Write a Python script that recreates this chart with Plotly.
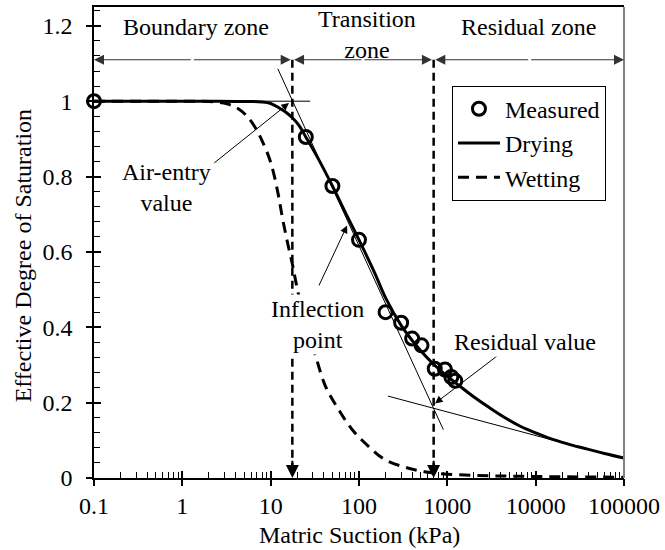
import math
import plotly.graph_objects as go

# Measured soil-water characteristic data (matric suction in kPa, effective degree of saturation)
suction_measured = [0.1, 25, 50, 100, 200, 300, 400, 510, 720, 940, 1110, 1230]
se_measured = [1.0, 0.905, 0.775, 0.632, 0.44, 0.412, 0.37, 0.352, 0.29, 0.288, 0.268, 0.258]

# Drying branch
suction_drying = [0.1, 0.5, 1, 2, 4, 6, 8, 10, 12.5, 15, 17.6, 21, 25, 35, 50, 70, 100, 150, 200,
                  300, 400, 500, 700, 1000, 1330, 2000, 2900, 4500, 6870, 10000, 16330, 25000,
                  38800, 60000, 100000]
se_drying = [1.0, 1.0, 1.0, 1.0, 0.999, 0.999, 0.998, 0.994, 0.982, 0.97, 0.956, 0.935, 0.905,
             0.845, 0.775, 0.705, 0.632, 0.545, 0.478, 0.405, 0.365, 0.338, 0.302, 0.27, 0.247,
             0.215, 0.189, 0.16, 0.136, 0.12, 0.101, 0.088, 0.0766, 0.065, 0.053]

# Wetting branch
suction_wetting = [0.1, 1, 2, 3.2, 4.3, 5.3, 6.5, 8, 10, 12, 13.6, 15.5, 17.6, 19.5, 24, 32, 42,
                   59, 84, 129, 199, 364, 611, 1000, 3000, 10000, 100000]
se_wetting = [1.0, 1.0, 0.999, 0.993, 0.98, 0.962, 0.935, 0.895, 0.838, 0.76, 0.69, 0.625, 0.568,
              0.515, 0.42, 0.326, 0.242, 0.181, 0.128, 0.0835, 0.048, 0.026, 0.015, 0.01, 0.006,
              0.004, 0.002]

# Graphical construction lines
saturation_line_x = [0.1, 28]
saturation_line_y = [1.0, 1.0]
inflection_tangent_x = [12.05, 902]
inflection_tangent_y = [1.086, 0.128]
residual_tangent_x = [212, 40000]
residual_tangent_y = [0.2175, 0.075]

air_entry_suction = 17.6
residual_suction = 700
zone_level = 1.11
suction_min, suction_max = 0.1, 100000

x_tickvals = [0.1, 1, 10, 100, 1000, 10000, 100000]
x_ticktext = ["0.1", "1", "10", "100", "1000", "10000", "100000"]
x_minor_vals = [m * 10 ** e for e in range(-1, 5) for m in range(2, 10)]

FONT = "Liberation Serif"
L = math.log10

fig = go.Figure()

# construction lines (thin)
for xs, ys in [(saturation_line_x, saturation_line_y),
               (inflection_tangent_x, inflection_tangent_y),
               (residual_tangent_x, residual_tangent_y)]:
    fig.add_trace(go.Scatter(x=xs, y=ys, mode="lines", line=dict(color="black", width=1),
                             showlegend=False, hoverinfo="skip"))

# vertical zone boundaries
for xv in (air_entry_suction, residual_suction):
    fig.add_trace(go.Scatter(x=[xv, xv], y=[zone_level, 0.02], mode="lines",
                             line=dict(color="black", width=2.5, dash="8px,5px"),
                             showlegend=False, hoverinfo="skip"))

fig.add_trace(go.Scatter(x=suction_wetting, y=se_wetting, mode="lines", name="Wetting",
                         line=dict(color="black", width=3, dash="11px,7px", shape="spline"),
                         legendrank=3))
fig.add_trace(go.Scatter(x=suction_drying, y=se_drying, mode="lines", name="Drying",
                         line=dict(color="black", width=3, shape="spline"),
                         legendrank=2))
fig.add_trace(go.Scatter(x=suction_measured, y=se_measured, mode="markers", name="Measured",
                         marker=dict(symbol="circle-open", size=13, color="black",
                                     line=dict(width=3, color="black")),
                         cliponaxis=False, legendrank=1))

# placeholder traces so the outer-tick axes are drawn
fig.add_trace(go.Scatter(x=[None], y=[None], xaxis="x2", yaxis="y", showlegend=False,
                         hoverinfo="skip"))
fig.add_trace(go.Scatter(x=[None], y=[None], xaxis="x", yaxis="y2", showlegend=False,
                         hoverinfo="skip"))

annotations = []


def arrow(tip, tail, width=1, size=1.5, color="black"):
    annotations.append(dict(x=L(tip[0]), y=tip[1], ax=L(tail[0]), ay=tail[1],
                            xref="x", yref="y", axref="x", ayref="y", text="",
                            showarrow=True, arrowhead=2, arrowsize=size,
                            arrowwidth=width, arrowcolor=color))


def label(x, y, text, bg=None):
    d = dict(x=L(x), y=y, xref="x", yref="y", text=text, showarrow=False,
             xanchor="center", yanchor="middle",
             font=dict(family=FONT, size=24, color="black"), align="center")
    if bg:
        d["bgcolor"] = bg
    annotations.append(d)


# zone extent arrows
gap = 1.045
zones = [(suction_min, air_entry_suction / gap),
         (air_entry_suction * gap, residual_suction / gap),
         (residual_suction * gap, suction_max)]
for a, b in zones:
    mid = 10 ** ((L(a) + L(b)) / 2)
    arrow((a, zone_level), (mid, zone_level), width=1, size=2, color="#333333")
    arrow((b, zone_level), (mid, zone_level), width=1, size=2, color="#333333")

# arrowheads on the vertical boundaries
for xv in (air_entry_suction, residual_suction):
    arrow((xv, 0.0), (xv, 0.05), width=2, size=1.3)

# pointer arrows
arrow((16.1, 0.995), (2.21, 0.833))
arrow((73.3, 0.67), (34.6, 0.507))
arrow((726, 0.198), (3760, 0.326))

label(1.41, 1.196, "Boundary zone")
label(122, 1.178, "Transition<br>zone")
label(8280, 1.196, "Residual zone")
label(0.66, 0.77, "Air-entry<br>value", bg="white")
label(34.2, 0.408, "Inflection<br>point", bg="white")
label(7500, 0.361, "Residual value", bg="white")

# axis titles
annotations.append(dict(x=0.501, y=-0.1205, xref="paper", yref="paper",
                        xanchor="center", yanchor="middle",
                        text="Matric Suction (kPa)", showarrow=False,
                        font=dict(family=FONT, size=24, color="black")))
annotations.append(dict(x=-0.135, y=0.4715, xref="paper", yref="paper",
                        xanchor="center", yanchor="middle",
                        text="Effective Degree of Saturation", showarrow=False, textangle=-90,
                        font=dict(family=FONT, size=24, color="black")))

tickfont = dict(family=FONT, size=24, color="black")

fig.update_layout(
    width=665, height=550,
    margin=dict(l=94, r=38, t=5, b=72),
    paper_bgcolor="white", plot_bgcolor="white",
    font=dict(family=FONT, size=24, color="black"),
    showlegend=True,
    legend=dict(x=0.6754, y=0.833, xanchor="left", yanchor="top",
                bgcolor="white", bordercolor="black", borderwidth=1,
                font=dict(family=FONT, size=24, color="black"),
                itemwidth=42),
    # labelled axes carry the inner half of the major ticks plus the minor ticks
    xaxis=dict(type="log", range=[L(suction_min), L(suction_max)],
               tickmode="array", tickvals=x_tickvals, ticktext=x_ticktext,
               ticks="inside", ticklen=7, tickwidth=1.5, tickcolor="black",
               showline=True, linecolor="black", linewidth=1.5, mirror=True,
               showgrid=False, zeroline=False, tickfont=tickfont, ticklabelstandoff=5,
               minor=dict(tickmode="array", tickvals=x_minor_vals, ticks="inside",
                          ticklen=6, tickwidth=1, tickcolor="black", showgrid=False)),
    yaxis=dict(range=[0, 1.25], tick0=0, dtick=0.2,
               ticks="inside", ticklen=7, tickwidth=1.5, tickcolor="black",
               showline=True, linecolor="black", linewidth=1.5,
               showgrid=False, zeroline=False, tickfont=tickfont, ticklabelstandoff=15,
               minor=dict(tick0=0, dtick=0.04, ticks="inside", ticklen=6, tickwidth=1,
                          tickcolor="black", showgrid=False)),
    # outer half of the major ticks
    xaxis2=dict(type="log", range=[L(suction_min), L(suction_max)], overlaying="x",
                anchor="y", side="bottom", tickmode="array", tickvals=x_tickvals,
                ticks="outside", ticklen=7, tickwidth=1.5, tickcolor="black",
                showticklabels=False, showline=False, showgrid=False, zeroline=False),
    yaxis2=dict(range=[0, 1.25], overlaying="y", anchor="x", side="left", tick0=0, dtick=0.2,
                ticks="outside", ticklen=7, tickwidth=1.5, tickcolor="black",
                showticklabels=False, showline=False, showgrid=False, zeroline=False),
    annotations=annotations,
    shapes=[dict(type="line", xref="paper", yref="paper", x0=1, x1=1, y0=0, y1=1,
                 line=dict(color="#808080", width=2))],
)

fig.write_html("out.html")
